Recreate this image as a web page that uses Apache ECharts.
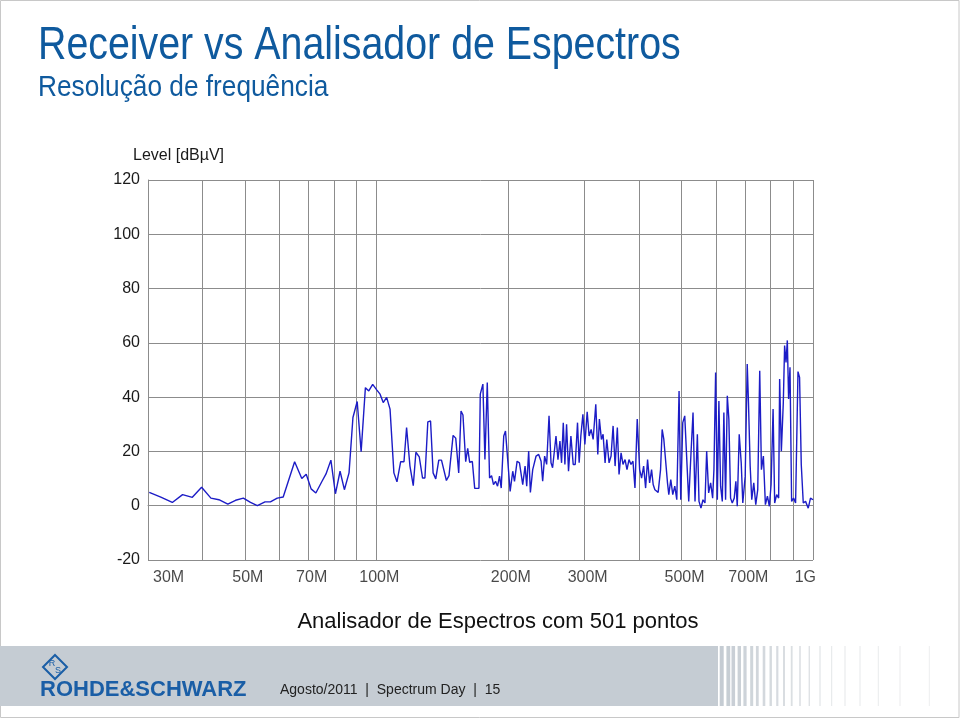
<!DOCTYPE html>
<html>
<head>
<meta charset="utf-8">
<script src="https://cdn.jsdelivr.net/npm/echarts@6.0.0/dist/echarts.min.js"></script>
<style>
html,body{margin:0;padding:0;background:#fff;}
#chart{width:960px;height:720px;}
</style>
</head>
<body>
<div id="chart"></div>
<script>
// ---- data (frequency in MHz, level in dBµV) ----
var freqMHz = [
30.2,32.1,34.1,36.0,37.9,39.8,41.8,43.6,45.7,47.6,
49.6,51.5,53.4,55.6,57.2,59.3,61.2,65.0,67.5,69.1,
70.9,72.7,75.1,76.7,78.7,80.6,82.6,84.5,86.6,88.4,
90.4,92.3,94.4,96.1,98.1,100.2,102.0,103.7,105.6,107.5,
109.7,111.5,113.7,115.7,117.3,119.4,121.5,123.2,125.4,127.6,
129.2,131.2,133.1,134.9,136.8,139.0,141.0,144.7,146.7,149.9,
152.0,154.4,156.3,157.9,160.2,161.9,163.6,165.9,168.0,171.8,
173.0,175.4,177.3,179.5,181.7,183.6,185.5,187.5,189.5,191.5,
193.2,195.8,197.6,199.4,202.5,205.3,207.2,210.1,212.7,214.6,
216.4,219.1,221.0,223.3,225.3,228.1,232.2,235.4,238.4,240.4,
242.9,245.5,248.6,251.2,253.3,257.9,260.6,263.3,265.6,268.0,
270.3,272.7,275.5,279.0,282.4,285.4,288.9,291.4,294.0,297.2,
300.3,304.0,307.1,310.4,313.7,318.1,321.5,324.2,327.7,330.6,
334.1,337.1,341.2,344.8,348.5,352.2,356.4,359.6,363.5,367.2,
371.2,375.0,379.0,383.0,387.0,391.1,395.8,400.9,405.0,409.4,
413.7,418.0,422.5,426.9,430.5,434.4,438.2,442.0,447.6,451.4,
455.4,459.5,464.3,467.5,472.4,477.4,482.5,487.6,493.5,497.9,
503.2,508.5,513.8,519.3,525.6,531.2,536.8,543.5,548.2,553.9,
559.8,565.7,570.8,576.8,582.9,589.1,593.1,598.4,603.8,608.8,
614.3,619.9,625.0,630.7,636.4,641.7,647.5,653.3,660.1,665.8,
670.7,677.7,684.9,690.6,699.4,706.9,711.6,718.0,724.0,731.7,
739.5,747.2,755.1,761.9,769.8,778.0,786.3,794.5,801.7,810.2,
817.0,825.7,834.3,838.7,846.3,855.1,861.0,867.4,873.4,879.3,
885.8,893.4,902.7,912.3,923.9,931.6,940.0,950.0,961.5,975.2,
986.9,1000
];
var levelDbuV = [
4.9,3.2,1.2,4.1,3.1,6.8,2.8,2.2,0.6,2.0,
2.8,1.2,0,1.4,1.4,2.8,3.2,16.2,10,11.6,
6.2,4.7,9,11.7,16.8,4.4,12.7,5.9,12.1,32.5,
38.4,19.9,43.5,42.3,44.7,42.7,41.1,38,39.9,35.6,
12.1,8.8,16.2,16.2,28.8,14.6,7.4,19.7,18,10.2,
10.2,30.9,31.2,12.1,9.9,16.8,16.8,9.3,11.1,25.9,
24.9,12.1,34.9,33.4,16.2,21.1,16,16.3,6.4,6.4,
41.1,44.8,17,45.4,10.2,11.1,7.8,9,7.2,10.9,
6.5,25.7,27.5,26.9,5.3,12.7,9,16.4,15.8,15.2,
7.8,14.6,7.2,20.1,4.9,13.3,18.3,18.9,16.4,9,
18.3,15.2,33.1,15.8,14,25.7,17,23.8,15.8,30.6,
15.2,30,12.7,25.7,15.2,15.2,30.6,15.8,25.7,33.7,
22.6,34.6,25.7,28.1,24.4,37.4,18.9,31.9,24.4,26.3,
15.8,24.4,15.8,18.3,29.4,14.6,28.8,11.5,19.5,15.2,
17,13.3,17,15.2,16.4,6.5,31.9,13.3,10.2,14.6,
6.5,17,8.4,13.3,7.8,5.9,6.5,4.9,13.3,28.1,
24.4,25.1,8.4,4.1,9.6,4.1,7.2,2.2,42.3,2.2,
30.6,33.1,33.7,1.6,19.5,34.3,1.6,26.3,1.6,-0.9,
2.2,1.0,20.1,4.7,8.4,2.8,13.3,49.1,2.2,38.6,
7.2,1.6,34.3,2.2,40.5,31.9,2.8,1,2.8,9,
-0.2,26.3,15.8,1,10.9,52.2,38,14.6,2.2,8.4,
0.4,5.9,49.7,13.3,18.3,0.4,3.5,-0.2,7.8,35.6,
1,4.1,2.8,46.7,20.1,38,59,52.8,60.9,39.3,
51,1.6,2.8,1,49.4,47.3,15.2,1,1.6,-0.9,
2.8,2.2
];
var gridFreqs = [40,50,60,70,80,90,100,200,300,400,500,600,700,800,900,1000];
var xTickFreqs = [30,50,70,100,200,300,500,700,1000];
var xTickLabels = ['30M','50M','70M','100M','200M','300M','500M','700M','1G'];

var titleText = 'Receiver vs Analisador de Espectros';
var subtitleText = 'Resolução de frequência';
var yAxisName = 'Level [dBµV]';
var captionText = 'Analisador de Espectros com 501 pontos';
var footerText = 'Agosto/2011  |  Spectrum Day  |  15';
var brandText = 'ROHDE&SCHWARZ';

// ---- build ----
var FONT = "'Liberation Sans', Arial, Helvetica, sans-serif";
var lineData = freqMHz.map(function (f, i) { return [f, levelDbuV[i]]; });
var lastTick = xTickFreqs.length - 1;
var tickData = xTickFreqs.map(function (f, i) {
  var align = i === 0 ? 'left' : (i === lastTick ? 'right' : 'center');
  var off = i === 0 ? 5 : 3;
  return { value: [f, -20], name: xTickLabels[i], label: { align: align, offset: [off, 0] } };
});

// footer decorative stripes
var stripeX = [721.7,728.3,733.3,739.3,745,751.7,757.3,764,770.7,777.3,784,791.7,800,809.3,820,831.7,845,860,878.3,900,929.3];
var footerGraphics = [
  { type: 'rect', shape: { x: 0, y: 646, width: 718, height: 60 }, style: { fill: '#c5ccd3' }, silent: true }
];
stripeX.forEach(function (x, i) {
  var n = stripeX.length;
  var w = Math.max(1, 4 - i * 0.2);
  var t = i / (n - 1);
  var c = Math.round(197 + t * 40);
  var c2 = Math.round(204 + t * 34);
  var c3 = Math.round(211 + t * 28);
  footerGraphics.push({ type: 'rect', shape: { x: x - w / 2, y: 646, width: w, height: 60 },
    style: { fill: 'rgb(' + c + ',' + c2 + ',' + c3 + ')' }, silent: true });
});

var chart = echarts.init(document.getElementById('chart'), null, { renderer: 'canvas' });
chart.setOption({
  animation: false,
  backgroundColor: '#ffffff',
  grid: { left: 148, right: 147, top: 180, bottom: 160, containLabel: false },
  xAxis: {
    type: 'log', logBase: 10, min: 30, max: 1000,
    axisLine: { show: true, lineStyle: { color: '#8c8c8c', width: 1 } },
    axisTick: { show: false }, axisLabel: { show: false },
    splitLine: { show: false }, minorSplitLine: { show: false }
  },
  yAxis: {
    type: 'value', min: -20, max: 120, interval: 20,
    axisLine: { show: true, lineStyle: { color: '#8c8c8c', width: 1 } },
    axisTick: { show: false },
    axisLabel: { color: '#1a1a1a', fontSize: 16, fontFamily: FONT, margin: 8, padding: [4, 0, 0, 0] },
    splitLine: { show: true, lineStyle: { color: '#8c8c8c', width: 1 } }
  },
  series: [
    {
      type: 'line', data: lineData, showSymbol: false, symbol: 'none',
      lineStyle: { color: '#1c1cc6', width: 1.4 }, clip: true, z: 5,
      markLine: {
        silent: true, symbol: ['none', 'none'], label: { show: false },
        lineStyle: { color: '#8c8c8c', width: 1, type: 'solid' },
        data: gridFreqs.map(function (f) { return { xAxis: f }; })
      }
    },
    {
      type: 'scatter', data: tickData, symbolSize: 0, silent: true, z: 1,
      label: {
        show: true, position: 'bottom', distance: 10,
        formatter: function (p) { return p.name; },
        color: '#1a1a1a', fontSize: 16, fontFamily: FONT
      }
    }
  ],
  graphic: [
    { type: 'rect', shape: { x: 0.5, y: 0.5, width: 958.5, height: 717 }, style: { fill: 'none', stroke: '#c8c8c8', lineWidth: 1 }, silent: true, z: 0 }
  ].concat(footerGraphics).concat([
    { type: 'text', x: 38, y: 46, scaleX: 0.855, style: { text: titleText, fontSize: 46, fontFamily: FONT, fill: '#0f5a9e', textVerticalAlign: 'middle' } },
    { type: 'text', x: 38, y: 88, scaleX: 0.905, style: { text: subtitleText, fontSize: 29, fontFamily: FONT, fill: '#0f5a9e', textVerticalAlign: 'middle' } },
    { type: 'text', x: 133, y: 156, style: { text: yAxisName, fontSize: 16, fontFamily: FONT, fill: '#1a1a1a', textVerticalAlign: 'middle' } },
    { type: 'text', x: 498, y: 622, style: { text: captionText, fontSize: 22, fontFamily: FONT, fill: '#111111', textAlign: 'center', textVerticalAlign: 'middle' } },
    { type: 'text', x: 280, y: 690, style: { text: footerText, fontSize: 14, fontFamily: FONT, fill: '#222222', textVerticalAlign: 'middle' } },
    { type: 'text', x: 40, y: 690, style: { text: brandText, fontSize: 22, fontWeight: 'bold', fontFamily: FONT, fill: '#1a5ea6', textVerticalAlign: 'middle' } },
    { type: 'polygon', shape: { points: [[55, 655], [67, 667], [55, 679], [43, 667]] }, style: { fill: 'none', stroke: '#1a5ea6', lineWidth: 2 } },
    { type: 'text', x: 52, y: 664, style: { text: 'R', fontSize: 9, fontFamily: FONT, fill: '#1a5ea6', textAlign: 'center', textVerticalAlign: 'middle' } },
    { type: 'text', x: 58, y: 671, style: { text: 'S', fontSize: 9, fontFamily: FONT, fill: '#1a5ea6', textAlign: 'center', textVerticalAlign: 'middle' } }
  ])
});
</script>
</body>
</html>
